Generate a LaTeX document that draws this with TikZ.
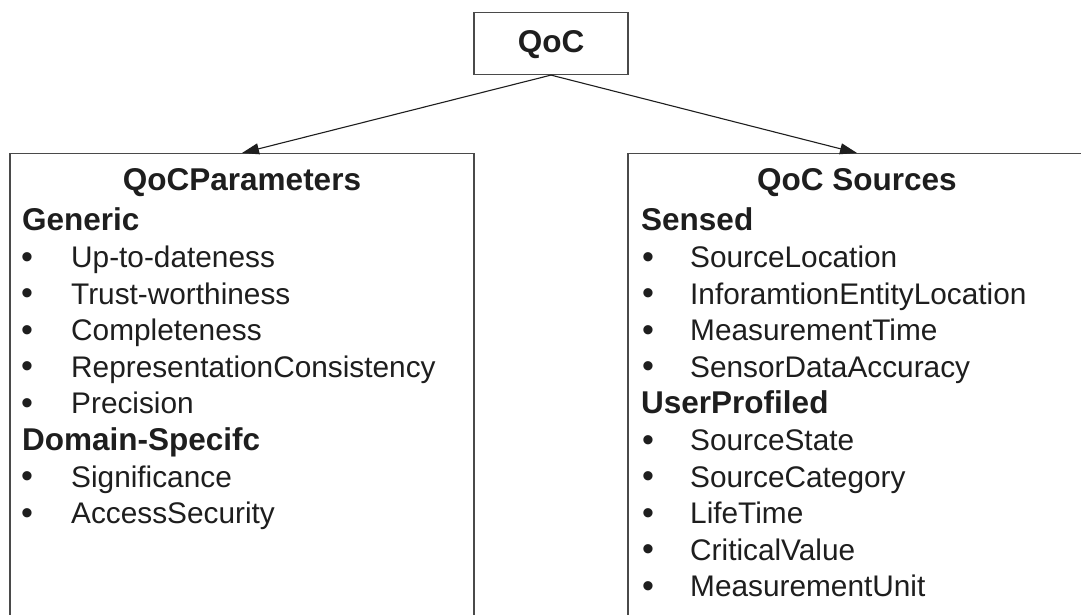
\documentclass[tikz,border=0pt]{standalone}
\usepackage{fontspec}
\setmainfont{Liberation Sans}
\usetikzlibrary{arrows.meta}
\definecolor{ink}{HTML}{1E1E1E}
\definecolor{edge}{HTML}{4A4A4A}
\begin{document}
\begin{tikzpicture}[x=1pt,y=-1pt,
  boxline/.style={draw=edge,line width=1.1pt},
  bigbox/.style={boxline,rectangle,anchor=north,minimum height=520pt,inner sep=0pt},
  head/.style={text=ink,font=\fontsize{31.5}{32}\selectfont\bfseries,inner sep=0pt},
  item/.style={text=ink,font=\fontsize{29.8}{30}\selectfont,inner sep=0pt,anchor=base west},
  bul/.style={text=ink,font=\fontsize{34}{34}\selectfont,inner sep=0pt,anchor=base},
  link/.style={draw=ink,line width=1.1pt,-{Triangle[length=17pt,width=11pt,fill=ink]}}]
\path[use as bounding box] (0,0) rectangle (1081,614);
\clip (0,0) rectangle (1081,614);
\fill[white] (0,0) rectangle (1081,614);
% top box
\node[boxline,minimum width=154pt,minimum height=62pt,inner sep=0pt,anchor=north] (qoc) at (551,12) {};
\node[head,anchor=base] (qoct) at (551,52) {QoC};
% big boxes
\node[bigbox,minimum width=464pt] (left) at (242,153) {};
\node[bigbox,minimum width=458pt] (right) at (857,153) {};
\draw[link] (qoc.south) -- (left.north);
\draw[link] (qoc.south) -- (right.north);
% left content
\node[head,anchor=base] (lh) at (242,190) {QoCParameters};
\node[head,anchor=base west] (lg) at (22,230) {Generic};
\foreach \t [count=\i from 0] in {Up-to-dateness,Trust-worthiness,Completeness,RepresentationConsistency,Precision}{
  \node[bul] (lb\i) at (27,268+36.6*\i) {•};
  \node[item] (li\i) at (71,267.5+36.6*\i) {\t};
}
\node[head,anchor=base west] (ld) at (22,267.5+36.6*5) {Domain-Specifc};
\foreach \t [count=\i from 6] in {Significance,AccessSecurity}{
  \node[bul] (lb\i) at (27,268+36.6*\i) {•};
  \node[item] (li\i) at (71,267.5+36.6*\i) {\t};
}
% right content
\node[head,anchor=base] (rh) at (857,190) {QoC Sources};
\node[head,anchor=base west] (rs) at (641,230) {Sensed};
\foreach \t [count=\i from 0] in {SourceLocation,InforamtionEntityLocation,MeasurementTime,SensorDataAccuracy}{
  \node[bul] (rb\i) at (648,268+36.6*\i) {•};
  \node[item] (ri\i) at (690,267.5+36.6*\i) {\t};
}
\node[head,anchor=base west] (ru) at (641,267.5+36.6*4) {UserProfiled};
\foreach \t [count=\i from 5] in {SourceState,SourceCategory,LifeTime,CriticalValue,MeasurementUnit}{
  \node[bul] (rb\i) at (648,268+36.6*\i) {•};
  \node[item] (ri\i) at (690,267.5+36.6*\i) {\t};
}
\end{tikzpicture}
\end{document}
